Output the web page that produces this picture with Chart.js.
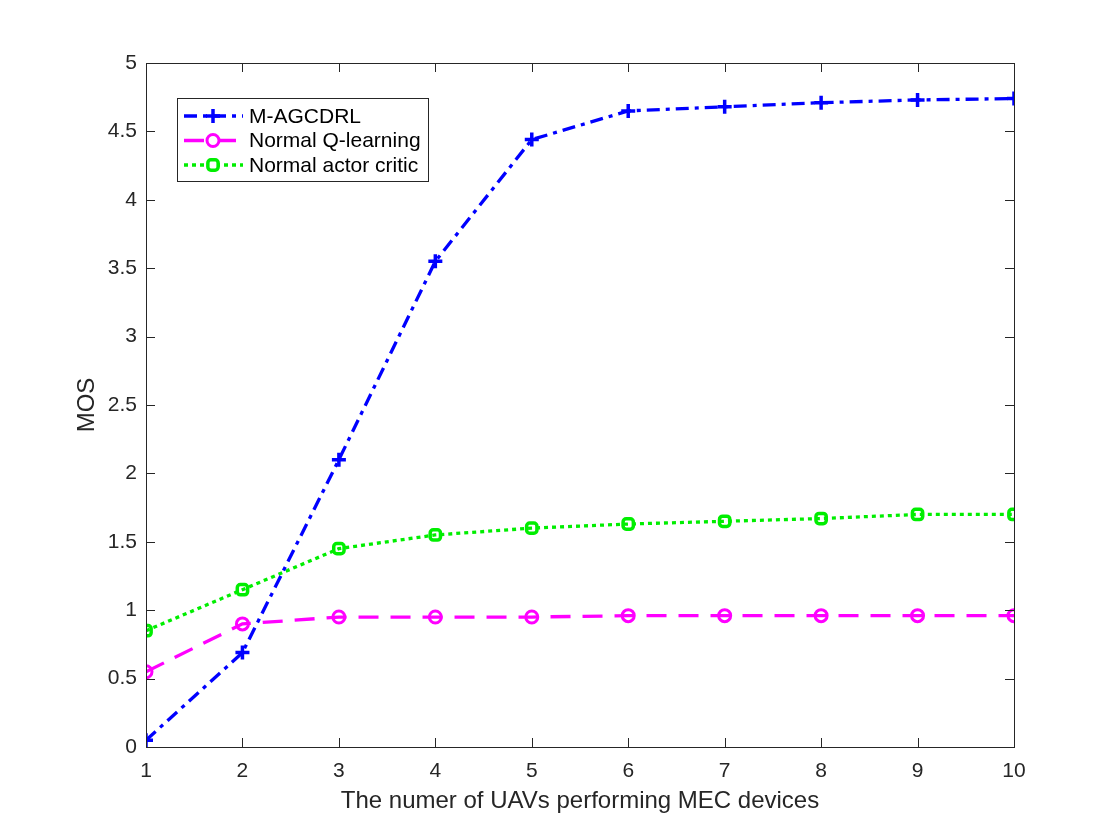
<!DOCTYPE html>
<html><head><meta charset="utf-8">
<script src="https://cdn.jsdelivr.net/npm/chart.js@4.4.0/dist/chart.umd.min.js"></script>
<style>html,body{margin:0;padding:0;background:#fff}#wrap{width:1120px;height:840px}</style>
</head><body><div id="wrap"><canvas id="c" width="1120" height="840"></canvas></div>
<script>
const xValues = [1,2,3,4,5,6,7,8,9,10];
const mAgcdrl = [0.05,0.69,2.1,3.55,4.44,4.65,4.68,4.71,4.73,4.74];
const qLearning = [0.55,0.9,0.95,0.95,0.95,0.96,0.96,0.96,0.96,0.96];
const actorCritic = [0.85,1.15,1.45,1.55,1.6,1.63,1.65,1.67,1.7,1.7];
const seriesNames = ['M-AGCDRL','Normal Q-learning','Normal actor critic'];
const xTicks = [1,2,3,4,5,6,7,8,9,10];
const yTicks = [0,0.5,1,1.5,2,2.5,3,3.5,4,4.5,5];
const xTitle = 'The numer of UAVs performing MEC devices';
const yTitle = 'MOS';

const FONT = 'Helvetica, "Liberation Sans", Arial, sans-serif';
const toPts = arr => arr.map((v,i)=>({x:xValues[i], y:v}));

const styles = [
  {color:'#0000ff', dash:[13,6,4,6], marker:'cross', r:7, bw:3.5},
  {color:'#ff00ff', dash:[20,12], marker:'circle', r:6, bw:3},
  {color:'#00ee00', dash:[4,4], marker:'rectRounded', r:6, bw:3.5}
];
const dataArr = [mAgcdrl, qLearning, actorCritic];

const datasets = dataArr.map((d,i)=>({
  label: seriesNames[i],
  data: toPts(d),
  borderColor: styles[i].color,
  backgroundColor: 'rgba(0,0,0,0)',
  borderWidth: 3.3,
  borderDash: styles[i].dash,
  pointStyle: styles[i].marker,
  pointRadius: styles[i].r,
  pointBorderWidth: styles[i].bw,
  pointBorderColor: styles[i].color,
  pointBackgroundColor: 'rgba(0,0,0,0)',
  tension: 0
}));

const framePlugin = {
  id:'frame',
  afterDatasetsDraw(chart){
    const {ctx, chartArea:a, scales:{x,y}} = chart;
    ctx.save();
    ctx.strokeStyle = '#262626';
    ctx.lineWidth = 1;
    ctx.strokeRect(Math.round(a.left)+0.5, Math.round(a.top)+0.5, Math.round(a.right-a.left), Math.round(a.bottom-a.top));
    const tl = 9;
    ctx.beginPath();
    xTicks.forEach(v=>{
      const px = Math.round(x.getPixelForValue(v))+0.5;
      ctx.moveTo(px, a.bottom); ctx.lineTo(px, a.bottom - tl);
      ctx.moveTo(px, a.top); ctx.lineTo(px, a.top + tl);
    });
    yTicks.forEach(v=>{
      const py = Math.round(y.getPixelForValue(v))+0.5;
      ctx.moveTo(a.left, py); ctx.lineTo(a.left + tl, py);
      ctx.moveTo(a.right, py); ctx.lineTo(a.right - tl, py);
    });
    ctx.stroke();

    // axis titles
    ctx.fillStyle = '#262626';
    ctx.font = '24px ' + FONT;
    ctx.textAlign = 'center';
    ctx.textBaseline = 'middle';
    ctx.fillText(xTitle, (a.left + a.right)/2, 801);
    ctx.save();
    ctx.translate(87, (a.top + a.bottom)/2);
    ctx.rotate(-Math.PI/2);
    ctx.fillText(yTitle, 0, 0);
    ctx.restore();

    // legend
    const lx = 177, ly = 98, lw = 251, lh = 83;
    ctx.fillStyle = '#fff';
    ctx.fillRect(lx, ly, lw, lh);
    ctx.strokeStyle = '#262626';
    ctx.lineWidth = 1;
    ctx.strokeRect(lx+0.5, ly+0.5, lw, lh);
    ctx.font = '21px ' + FONT;
    ctx.textBaseline = 'middle';
    ctx.textAlign = 'left';
    seriesNames.forEach((n,i)=>{
      const yy = ly + 18 + i*24.5;
      const st = styles[i];
      ctx.save();
      ctx.strokeStyle = st.color;
      ctx.lineWidth = 3.3;
      ctx.setLineDash(st.dash);
      ctx.beginPath(); ctx.moveTo(lx+7, yy); ctx.lineTo(lx+66, yy); ctx.stroke();
      ctx.setLineDash([]);
      ctx.fillStyle = '#fff';
      ctx.lineWidth = st.bw;
      Chart.helpers.drawPoint(ctx, {pointStyle: st.marker, radius: st.r, borderWidth: st.bw}, lx+36, yy);
      ctx.restore();
      ctx.fillStyle = '#000';
      ctx.fillText(n, lx + 72, yy + 1);
    });
    ctx.restore();
  }
};

new Chart(document.getElementById('c'), {
  type:'line',
  data:{datasets},
  options:{
    responsive:false,
    animation:false,
    devicePixelRatio:1,
    layout:{padding:{top:63, right:106, left:0, bottom:0}},
    plugins:{legend:{display:false}, tooltip:{enabled:false}},
    scales:{
      x:{
        type:'linear', min:1, max:10,
        afterBuildTicks(s){ s.ticks = xTicks.map(v=>({value:v})); },
        afterFit(s){ s.height = 93; },
        grid:{display:false, drawTicks:false},
        border:{display:false},
        ticks:{font:{family:FONT, size:21}, color:'#262626', padding:12, maxRotation:0},
        title:{display:false}
      },
      y:{
        type:'linear', min:0, max:5,
        afterBuildTicks(s){ s.ticks = yTicks.map(v=>({value:v})); },
        afterFit(s){ s.width = 146; },
        grid:{display:false, drawTicks:false},
        border:{display:false},
        ticks:{font:{family:FONT, size:21}, color:'#262626', padding:9, callback:v=>String(v)},
        title:{display:false}
      }
    }
  },
  plugins:[framePlugin]
});
</script>
</body></html>
